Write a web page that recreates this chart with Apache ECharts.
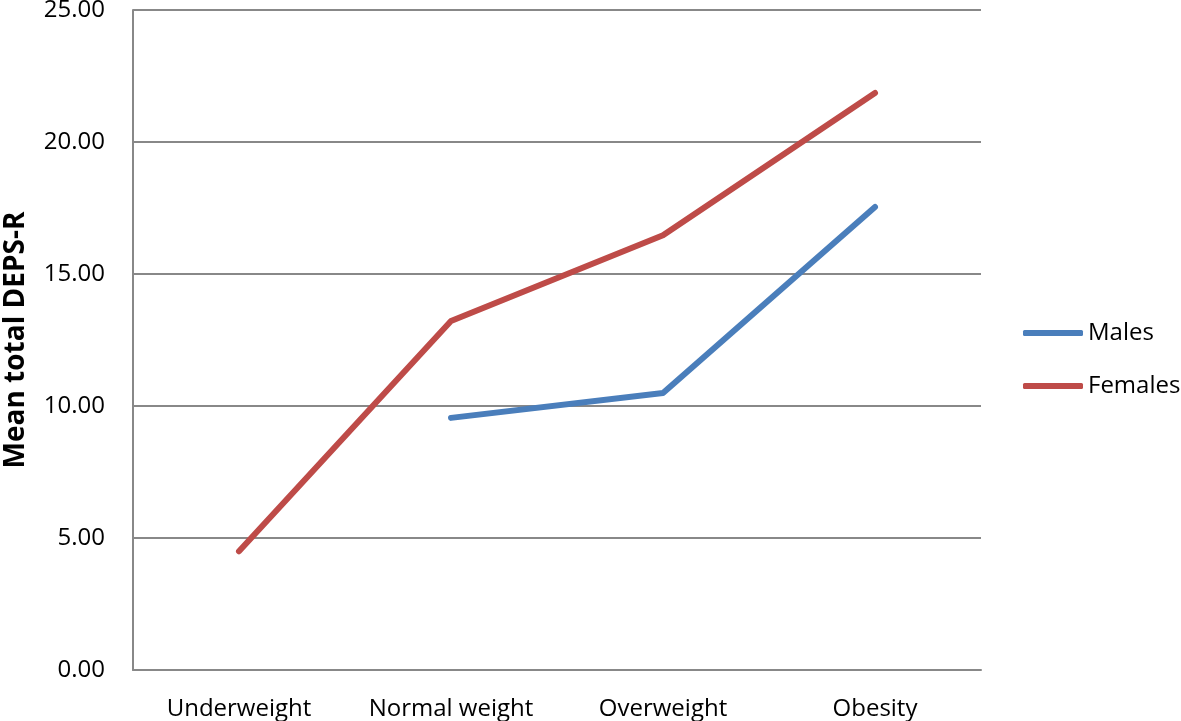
<!DOCTYPE html>
<html>
<head>
<meta charset="utf-8">
<script src="https://cdn.jsdelivr.net/npm/echarts@6/dist/echarts.min.js"></script>
<style>html,body{margin:0;padding:0;background:#fff}#c{width:1181px;height:721px}</style>
</head>
<body>
<div id="c"></div>
<script>
var categories = ['Underweight', 'Normal weight', 'Overweight', 'Obesity'];
var males = [null, 9.55, 10.49, 17.54];
var females = [4.5, 13.22, 16.47, 21.86];
var yTicks = { min: 0, max: 25, interval: 5 };
var yTitle = 'Mean total DEPS-R';

var chart = echarts.init(document.getElementById('c'));
var font = '"Open Sans", "Noto Sans", sans-serif';
chart.setOption({
  animation: false,
  backgroundColor: '#fff',
  textStyle: { fontFamily: font },
  grid: { left: 133, right: 200, top: 10, bottom: 51, containLabel: false, outerBoundsMode: 'none' },
  legend: {
    orient: 'vertical',
    left: 1023,
    top: 321,
    padding: 0,
    itemWidth: 60,
    itemHeight: 6,
    itemGap: 29,
    icon: 'roundRect',
    textStyle: { fontSize: 24, color: '#000', fontFamily: font },
    data: ['Males', 'Females']
  },
  xAxis: {
    type: 'category',
    data: categories,
    boundaryGap: true,
    axisLine: { lineStyle: { color: '#888', width: 2 } },
    axisTick: { show: false },
    axisLabel: { color: '#000', fontSize: 24, margin: 27, fontFamily: font, interval: 0, hideOverlap: false }
  },
  yAxis: {
    type: 'value',
    min: yTicks.min, max: yTicks.max, interval: yTicks.interval,
    name: yTitle,
    nameLocation: 'middle',
    nameGap: 103,
    nameTextStyle: { fontSize: 28, fontWeight: 'bold', color: '#000', fontFamily: font },
    axisLine: { show: true, lineStyle: { color: '#888', width: 2 } },
    axisTick: { show: false },
    splitLine: { lineStyle: { color: '#888', width: 2 } },
    axisLabel: { color: '#000', fontSize: 24, margin: 28, fontFamily: font,
      formatter: function (v) { return v.toFixed(2); } }
  },
  series: [
    { name: 'Males', type: 'line', data: males, symbol: 'none', connectNulls: false,
      color: '#4A7EBB', lineStyle: { width: 6, color: '#4A7EBB', cap: 'round', join: 'round' } },
    { name: 'Females', type: 'line', data: females, symbol: 'none',
      color: '#BE4B48', lineStyle: { width: 6, color: '#BE4B48', cap: 'round', join: 'round' } }
  ]
});
</script>
</body>
</html>
